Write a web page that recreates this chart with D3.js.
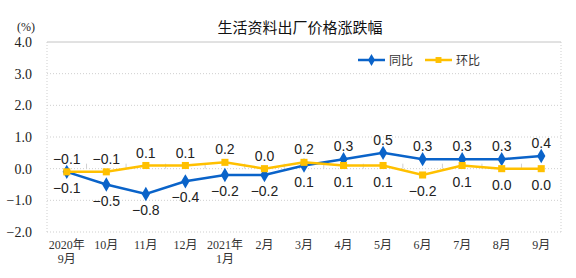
<!DOCTYPE html>
<html>
<head>
<meta charset="utf-8">
<script src="https://cdn.jsdelivr.net/npm/d3@7"></script>
<style>
    body { margin: 0; background: #fff; }
</style>
</head>
<body>
<svg id="main" width="576" height="278"></svg>
<script>
const width = 576;
const height = 278;
const position = {
    left: 47,
    top: 42,
    right: 15,
    bottom: 46
};
const innerWidth = width - position.left - position.right;
const innerHeight = height - position.top - position.bottom;

const months = ['2020年|9月', '10月', '11月', '12月', '2021年|1月', '2月', '3月', '4月', '5月', '6月', '7月', '8月', '9月'];
const tongbi = [-0.1, -0.5, -0.8, -0.4, -0.2, -0.2, 0.1, 0.3, 0.5, 0.3, 0.3, 0.3, 0.4];
const huanbi = [-0.1, -0.1, 0.1, 0.1, 0.2, 0.0, 0.2, 0.1, 0.1, -0.2, 0.1, 0.0, 0.0];
const yTicks = [-2, -1, 0, 1, 2, 3, 4];

const series = [
    { name: '同比', values: tongbi, color: '#0a63c9', symbol: d3.symbolDiamond, size: 60 },
    { name: '环比', values: huanbi, color: '#ffc000', symbol: d3.symbolSquare, size: 50 }
];

const svg = d3.select('#main');

svg.append('text')
    .attr('x', 300)
    .attr('y', 33)
    .attr('text-anchor', 'middle')
    .attr('font-family', '"Noto Sans CJK SC", sans-serif')
    .attr('font-size', 15)
    .attr('fill', '#111')
    .text('生活资料出厂价格涨跌幅');

const mainGroup = svg
    .append('g')
    .attr('transform', `translate(${position.left}, ${position.top})`);

const xScale = d3.scaleBand().domain(months).range([0, innerWidth]);
const yScale = d3.scaleLinear().domain([-2, 4]).range([innerHeight, 0]);
const xc = i => xScale(months[i]) + xScale.bandwidth() / 2;

// 网格线
mainGroup
    .selectAll('.grid')
    .data(yTicks)
    .join('line')
    .attr('class', 'grid')
    .attr('x1', 0)
    .attr('x2', innerWidth)
    .attr('y1', d => yScale(d))
    .attr('y2', d => yScale(d))
    .attr('stroke', d => (d === 4 ? '#c4c4c4' : '#cfcfcf'))
    .attr('stroke-dasharray', d => (d === 4 ? null : '1,2'));

// 左右边框
[0, innerWidth].forEach(x => {
    mainGroup.append('line')
        .attr('x1', x).attr('x2', x)
        .attr('y1', 0).attr('y2', innerHeight)
        .attr('stroke', '#cfcfcf')
        .attr('stroke-dasharray', '1,2');
});

// 零线上的刻度
mainGroup
    .selectAll('.xtick')
    .data(months.slice(1))
    .join('line')
    .attr('x1', d => xScale(d))
    .attr('x2', d => xScale(d))
    .attr('y1', yScale(0))
    .attr('y2', yScale(0) - 5)
    .attr('stroke', '#d0d0d0');

// y 轴
const yAxis = d3.axisLeft(yScale)
    .tickValues(yTicks)
    .tickFormat(d3.format('.1f'))
    .tickSize(0)
    .tickPadding(15);
const yG = mainGroup.append('g').call(yAxis);
yG.select('.domain').remove();
yG.selectAll('text')
    .attr('font-family', '"Liberation Serif", serif')
    .attr('font-size', 14)
    .attr('fill', '#222');

svg.append('text')
    .attr('x', 26)
    .attr('y', 31)
    .attr('text-anchor', 'middle')
    .attr('font-family', '"Liberation Serif", serif')
    .attr('font-size', 12)
    .attr('fill', '#222')
    .text('(%)');

// x 轴标签
const xLabels = mainGroup
    .selectAll('.xlabel')
    .data(months)
    .join('text')
    .attr('class', 'xlabel')
    .attr('text-anchor', 'middle')
    .attr('font-family', '"Liberation Serif", "Noto Sans CJK SC", serif')
    .attr('font-size', 12)
    .attr('fill', '#333')
    .attr('transform', d => `translate(${xScale(d) + xScale.bandwidth() / 2}, ${innerHeight + 17})`);
xLabels
    .selectAll('tspan')
    .data(d => d.split('|'))
    .join('tspan')
    .attr('x', 0)
    .attr('dy', (d, i) => (i === 0 ? 0 : 14))
    .text(d => d);

// 折线
const line = d3.line()
    .x((d, i) => xc(i))
    .y(d => yScale(d));

series.forEach(s => {
    mainGroup.append('path')
        .attr('d', line(s.values))
        .attr('fill', 'none')
        .attr('stroke', s.color)
        .attr('stroke-width', 2.5);
    mainGroup.selectAll(null)
        .data(s.values)
        .join('path')
        .attr('transform', (d, i) => `translate(${xc(i)}, ${yScale(d)})`)
        .attr('d', d3.symbol().type(s.symbol).size(s.size))
        .attr('fill', s.color);
});

// 数据标签：较高的一条在上方
series.forEach((s, k) => {
    const other = series[1 - k].values;
    mainGroup.selectAll(null)
        .data(s.values)
        .join('text')
        .attr('text-anchor', 'middle')
        .attr('font-family', '"Liberation Sans", Arial, sans-serif')
        .attr('font-size', 14)
        .attr('fill', '#222')
        .attr('x', (d, i) => xc(i))
        .attr('y', (d, i) => {
            const above = k === 0 ? d > other[i] : d >= other[i];
            return yScale(d) + (above ? -8 : 21);
        })
        .text(d => d3.format('.1f')(d));
});

// 图例
const legend = svg.append('g').attr('transform', 'translate(358, 60)');
series.forEach((s, i) => {
    const g = legend.append('g').attr('transform', `translate(${i * 67}, 0)`);
    g.append('line')
        .attr('x1', 0).attr('x2', 27)
        .attr('stroke', s.color)
        .attr('stroke-width', 2.5);
    g.append('path')
        .attr('transform', 'translate(13.5, 0)')
        .attr('d', d3.symbol().type(s.symbol).size(s.size * 0.7))
        .attr('fill', s.color);
    g.append('text')
        .attr('x', 31)
        .attr('y', 5)
        .attr('font-family', '"Noto Sans CJK SC", sans-serif')
        .attr('font-size', 12)
        .attr('fill', '#333')
        .text(s.name);
});
</script>
</body>
</html>
